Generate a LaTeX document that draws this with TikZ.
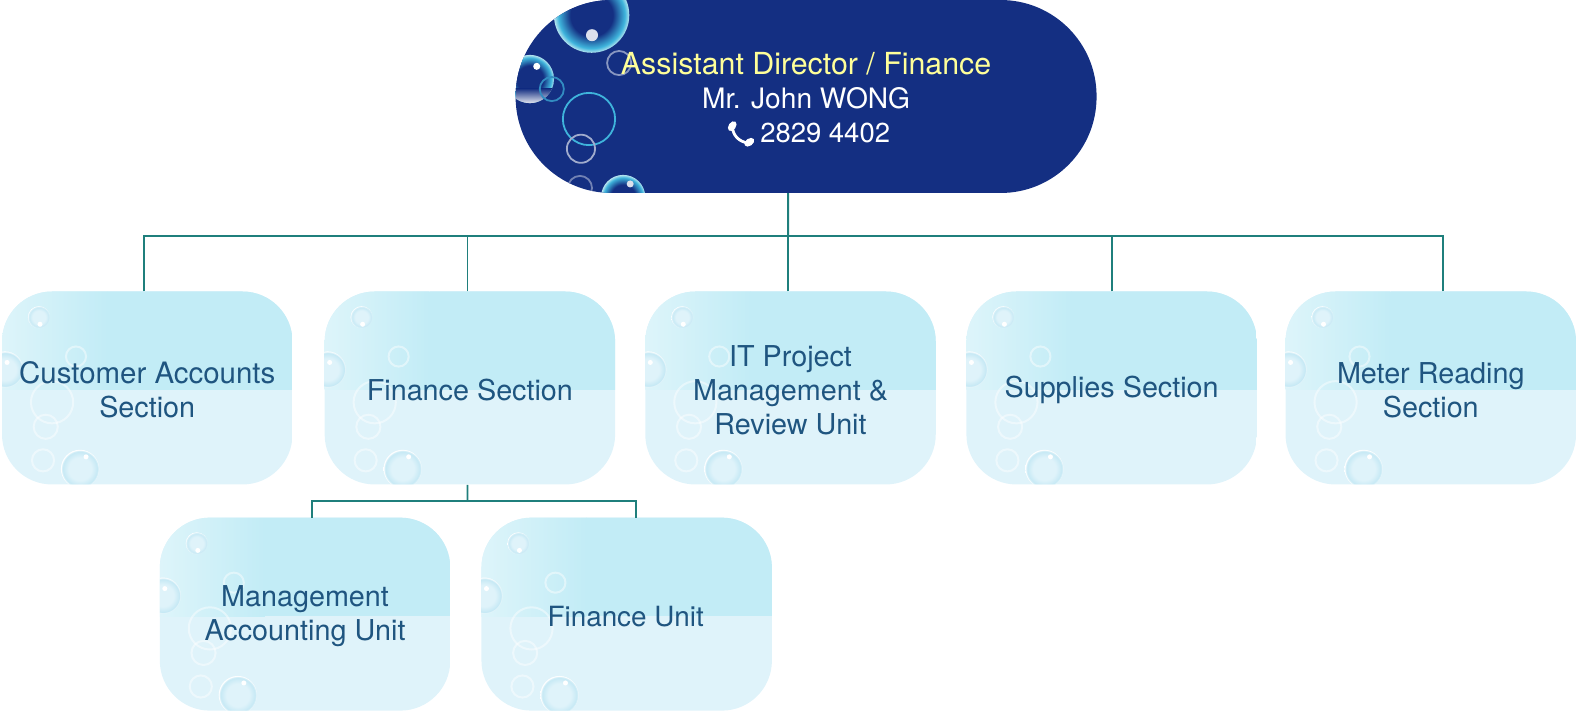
\documentclass[tikz,border=0pt]{standalone}
\usepackage{fontspec}
\setmainfont{TeX Gyre Heros}
\definecolor{bossblue}{HTML}{142F82}
\definecolor{unitupper}{HTML}{C2ECF6}
\definecolor{unitlower}{HTML}{DFF3FA}
\definecolor{unittext}{HTML}{1F5580}
\definecolor{linkteal}{HTML}{1F7F7C}
\definecolor{titleyellow}{HTML}{FFFF99}
\definecolor{bubcyan}{HTML}{3FB4DC}
\definecolor{bubrim}{HTML}{B5E4F0}
\pgfdeclareradialshading{bubdark}{\pgfpoint{0cm}{0cm}}{color(0bp)=(bossblue);color(14bp)=(bossblue);color(22bp)=(bubcyan);color(25bp)=(bubrim);color(50bp)=(bubrim)}
\pgfdeclareradialshading{bubpale}{\pgfpoint{0cm}{0cm}}{color(0bp)=(unitlower);color(15bp)=(unitlower);color(23bp)=(bubcyan!30!white);color(25bp)=(white);color(50bp)=(white)}
% bubbles of the small boxes: #4,#5 place the highlight
\newcommand{\palering}[3]{\draw[white,opacity=0.45,line width=2pt] (#1,#2) circle (#3pt);}
\newcommand{\palebub}[5]{
  \shade[shading=bubpale] (#1,#2) circle (#3pt);
  \fill[white] (#1+#4,#2+#5) circle (2.5pt);
}
% bubbles of the top box
\newcommand{\darkring}[4]{\draw[#4,line width=1.8pt] (#1,#2) circle (#3pt);}
\newcommand{\darkbub}[3]{\shade[shading=bubdark] (#1,#2) circle (#3pt);}
% background of a small box
\newcommand{\unitart}[2]{
  \begin{scope}[shift={(#1,#2)}]
    \clip[rounded corners=50pt] (-144.5,-96) rectangle (144.5,96);
    \fill[unitlower] (-145,-97) rectangle (145,97);
    \shade[left color=unitupper!55!white,right color=unitupper] (-145,-97) rectangle (-40,2);
    \fill[unitupper] (-40,-97) rectangle (145,2);
    \palebub{-107.7}{-70.4}{11}{1}{7}
    \palebub{-141.5}{-18.4}{18}{2}{-7}
    \palering{-94.7}{14.2}{21}
    \palering{-70.9}{-31.3}{10}
    \palering{-101}{38.6}{12}
    \palering{-103.7}{72}{11}
    \palebub{-66.9}{80.5}{19}{6}{-12}
  \end{scope}
}
\tikzset{
  orglink/.style={draw=linkteal,line width=1.9pt},
  unitbox/.style={minimum width=289pt,minimum height=196pt,inner sep=0pt,
    align=center,text=unittext,font=\fontsize{28.6}{34}\selectfont},
  bossbox/.style={minimum width=578pt,minimum height=194pt,inner sep=0pt,
    align=center,text=white,font=\fontsize{28}{34}\selectfont}
}
\begin{document}
\begin{tikzpicture}[x=1pt,y=-1pt,scale=1.0051,transform shape]
  \useasboundingbox (0,0) rectangle (1568,712.4);
  \begin{scope}[shift={(802,96)}]
    \clip[rounded corners=96pt] (-289,-96) rectangle (289,96);
    \fill[bossblue] (-290,-97) rectangle (290,97);
    \darkbub{-213.4}{-81}{37.5}
    \fill[white!85!bossblue] (-213,-61) circle (6pt);
    \darkbub{-274.8}{-17.4}{24}
    \begin{scope}
      \clip (-274.8,-17.4) circle (24pt);
      \shade[top color=bossblue,bottom color=white!90!bossblue] (-300,-8) rectangle (-250,7);
    \end{scope}
    \fill[white] (-268,-30) circle (3.5pt);
    \darkring{-253}{-7.4}{12}{bubcyan!70!bossblue}
    \darkring{-216}{22.4}{26}{bubcyan}
    \darkring{-224}{52}{14}{white!60!bossblue}
    \darkring{-186}{-33.3}{12}{white!50!bossblue}
    \darkring{-225}{91}{12}{white!40!bossblue}
    \darkbub{-182}{100}{22}
    \fill[white!85!bossblue] (-175,87) circle (3.5pt);
  \end{scope}
  \node[bossbox] (boss) at (802,97) {{\color{titleyellow}\fontsize{30.2}{34}\selectfont Assistant Director / Finance}\\Mr. John WONG\\\hspace*{38pt}{\fontsize{27.3}{34}\selectfont 2829 4402}};
  % handset
  \draw[white,line width=2.8pt] (728.5,125) .. controls (729,135) and (735,141) .. (745,142.5);
  \fill[white,rotate around={55:(728.5,125.5)}] (728.5,125.5) ellipse (5.5pt and 3.6pt);
  \fill[white,rotate around={35:(745.5,141.5)}] (745.5,141.5) ellipse (5.5pt and 3.6pt);
  \foreach \x/\y in {146.5/386,467.5/386,786.5/386,1106/386,1423.5/386,303.5/611,623.5/611} {
    \unitart{\x}{\y}
  }
  \node[unitbox] (cust) at (146.5,388) {{\fontsize{29.3}{34}\selectfont Customer Accounts}\\Section};
  \node[unitbox] (fin) at (467.5,388) {Finance Section};
  \node[unitbox] (itunit) at (786.5,388) {IT Project\\Management \&\\Review Unit};
  \node[unitbox] (supply) at (1106,388) {Supplies Section};
  \node[unitbox] (meter) at (1423.5,388) {Meter Reading\\Section};
  \node[unitbox] (mgmt) at (303.5,613) {Management\\Accounting Unit};
  \node[unitbox] (finunit) at (622.5,613) {\fontsize{27.7}{34}\selectfont Finance Unit};
  \coordinate (busmid) at (784,235);
  \coordinate (submid) at (465,498);
  \draw[orglink] ([xshift=-18pt,yshift=2pt]boss.south) -- (busmid);
  \foreach \n/\d in {cust/-3.5,fin/-2.5,itunit/-2.5,supply/0,meter/11.5} {
    \draw[orglink] ([xshift=\d pt]\n.north) |- (busmid);
  }
  \draw[orglink] ([xshift=-2.5pt,yshift=4pt]fin.south) -- (submid);
  \draw[orglink] ([xshift=6.5pt]mgmt.north) |- (submid);
  \draw[orglink] ([xshift=10.5pt]finunit.north) |- (submid);
\end{tikzpicture}
\end{document}
